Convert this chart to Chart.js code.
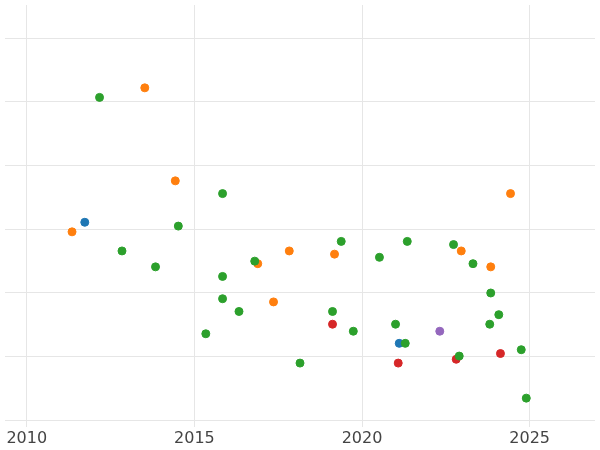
<!DOCTYPE html>
<html>
<head>
<script src="https://cdn.jsdelivr.net/npm/chart.js@4"></script>
<style>
  html, body { margin: 0; padding: 0; background: #fff; }
  #wrap { width: 600px; height: 450px; }
</style>
</head>
<body>
<div id="wrap"><canvas id="c"></canvas></div>
<script>
// values: [year, value]
const greenPts = [
  [2012.17, 5.07], [2015.84, 3.56], [2014.52, 3.05], [2012.84, 2.66], [2013.84, 2.41],
  [2016.80, 2.50], [2015.84, 2.26], [2015.84, 1.91], [2016.33, 1.71], [2015.34, 1.36],
  [2018.15, 0.90], [2019.38, 2.81], [2020.52, 2.56], [2021.35, 2.81], [2019.12, 1.71],
  [2019.74, 1.40], [2021.00, 1.51], [2021.29, 1.21], [2022.73, 2.76], [2023.31, 2.46],
  [2023.84, 2.00], [2024.08, 1.66], [2023.81, 1.51], [2022.90, 1.01], [2024.75, 1.11],
  [2024.90, 0.35]
];
const orangePts = [
  [2013.52, 5.22], [2014.43, 3.76], [2011.35, 2.96], [2016.89, 2.46], [2017.83, 2.66],
  [2017.36, 1.86], [2019.18, 2.61], [2022.96, 2.66], [2023.84, 2.41], [2024.43, 3.56]
];
const bluePts = [[2011.73, 3.11], [2021.11, 1.21]];
const redPts = [[2019.12, 1.51], [2021.08, 0.90], [2022.81, 0.96], [2024.13, 1.05]];
const purplePts = [[2022.32, 1.40]];

const xTicks = [2010, 2015, 2020, 2025];

function toXY(list) {
    return list.map(p => ({ x: p[0], y: p[1] }));
}

function ds(list, color) {
    return {
        data: toXY(list),
        backgroundColor: color,
        borderColor: color,
        pointRadius: 4,
        pointHoverRadius: 4
    };
}

new Chart(document.getElementById('c').getContext('2d'), {
    type: 'scatter',
    data: {
        datasets: [
            ds(greenPts, '#2ca02c'),
            ds(orangePts, '#ff7f0e'),
            ds(bluePts, '#1f77b4'),
            ds(redPts, '#d62728'),
            ds(purplePts, '#9467bd')
        ]
    },
    options: {
        responsive: true,
        maintainAspectRatio: false,
        animation: false,
        layout: { padding: { left: -5, right: -6, top: -5, bottom: 0 } },
        plugins: { legend: { display: false }, tooltip: { enabled: false } },
        scales: {
            x: {
                min: 2009.35,
                max: 2026.95,
                afterBuildTicks: s => { s.ticks = xTicks.map(v => ({ value: v })); },
                afterFit: s => { s.paddingLeft = 0; s.paddingRight = 0; },
                grid: { color: '#e6e6e6', drawTicks: false },
                border: { display: false },
                ticks: {
                    color: '#444',
                    font: { size: 16, family: 'DejaVu Sans' },
                    padding: 2,
                    maxRotation: 0,
                    callback: v => String(v)
                }
            },
            y: {
                min: -0.1,
                max: 6.52,
                afterBuildTicks: s => { s.ticks = [0, 1, 2, 3, 4, 5, 6].map(v => ({ value: v })); },
                afterFit: s => { s.width = 0; },
                grid: { color: '#e6e6e6', drawTicks: false },
                border: { display: false },
                ticks: { display: false }
            }
        }
    }
});
</script>
</body>
</html>
